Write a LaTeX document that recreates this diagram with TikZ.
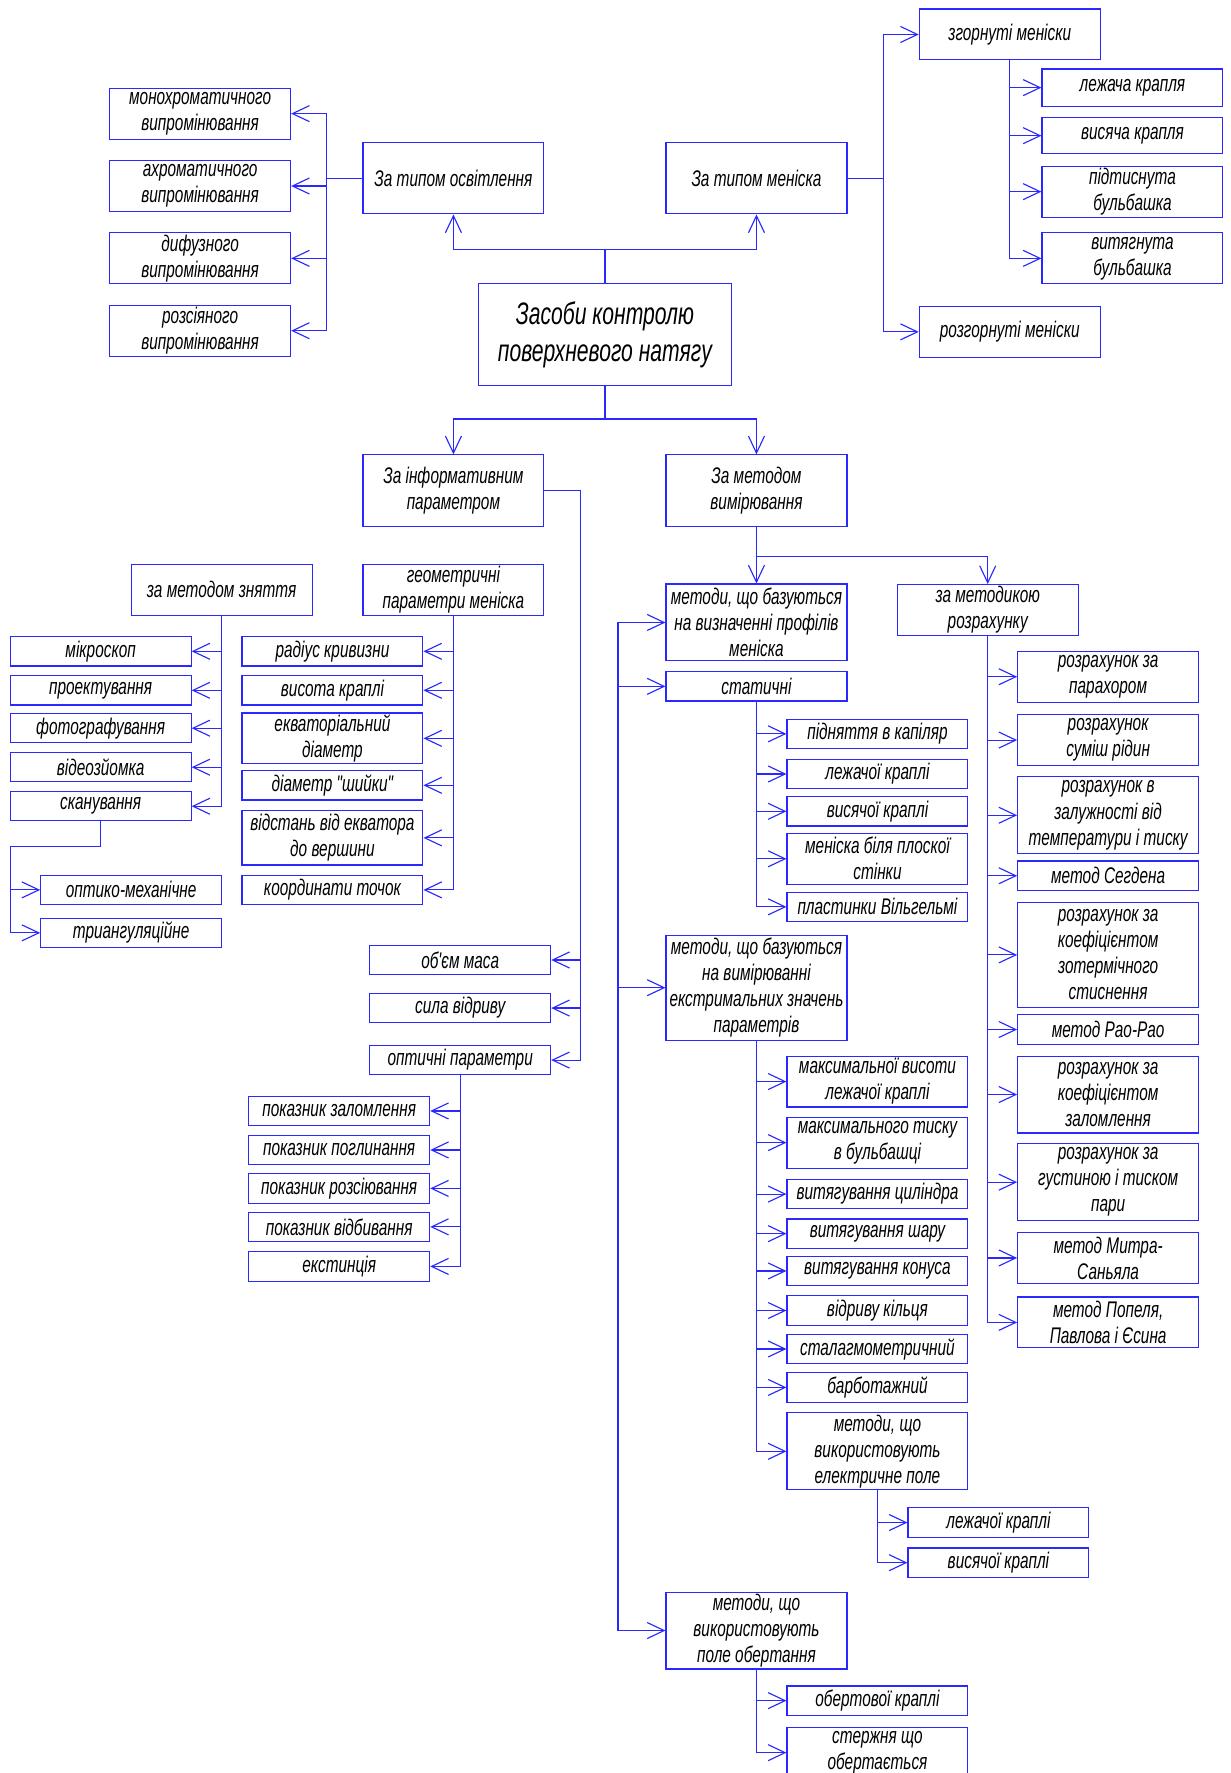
\documentclass[tikz,border=0pt]{standalone}
\usepackage{fontspec}
\newfontfamily\narrowfont{Liberation Sans}[FakeStretch=0.68]
\usetikzlibrary{arrows.meta}
\definecolor{lineblue}{RGB}{40,40,255}
\tikzset {>={Straight Barb[length=9pt,width=8.5pt]}}

\begin{document}
\begin{tikzpicture}[x=0.6pt,y=-0.6pt,
  every node/.style={font=\narrowfont\itshape\fontsize{12}{13.8}\selectfont},
  bx/.style={draw=lineblue,line width=0.6pt,align=center,inner sep=0pt,minimum width=96pt},
  h1/.style={bx,minimum height=15.6pt},
  h2/.style={bx,minimum height=27pt},
  hb/.style={bx,minimum height=38pt},
  h3/.style={bx,minimum height=40.8pt},
  h4/.style={bx,minimum height=55.8pt},
  ln/.style={draw=lineblue,line width=0.6pt,->}]
\fill[white] (0,0) rectangle (1088,1568);
\useasboundingbox (0,0) rectangle (1088,1568);

% top part
\node[bx,minimum width=134.4pt,minimum height=54pt,font=\narrowfont\itshape\fontsize{16.5}{19.8}\selectfont] (main) at (535,296) {Засоби контролю\\поверхневого натягу};
\node[hb] (osv) at (401,157.5) {За типом освітлення};
\node[hb] (men) at (669,157.5) {За типом меніска};
\node[h2] (mono) at (177,100.5) {монохроматичного\\випромінювання};
\node[h2] (achro) at (177,164.5) {ахроматичного\\випромінювання};
\node[h2] (dif) at (177,228.5) {дифузного\\випромінювання};
\node[h2] (roz) at (177,292.5) {розсіяного\\випромінювання};
\node[h2] (zgor) at (893,30.5) {згорнуті меніски};
\node[h2] (rozg) at (893,293.5) {розгорнуті меніски};
\node[bx,minimum height=19.8pt] (lezh) at (1001.5,77.5) {лежача крапля};
\node[bx,minimum height=19.2pt] (vys) at (1001.5,120) {висяча крапля};
\node[h2] (pidt) at (1001.5,169.5) {підтиснута\\бульбашка};
\node[h2] (vyt) at (1001.5,228.5) {витягнута\\бульбашка};

\draw[ln] (main.north) -- ++(0,-30) -| (osv.south);
\draw[ln] (main.north) -- ++(0,-30) -| (men.south);
\foreach \n in {mono,achro,dif,roz}
  \draw[ln] (osv.west) -- ++(-32,0) |- (\n.east);
\foreach \n in {zgor,rozg}
  \draw[ln] (men.east) -- ++(32,0) |- (\n.west);
\foreach \n in {lezh,vys,pidt,vyt}
  \draw[ln] (zgor.south) |- (\n.west);

% left part
\node[hb] (inf) at (401,434) {За інформативним\\параметром};
\node[h2] (znyat) at (196,521.5) {за методом зняття};
\node[h2] (geom) at (401,521.5) {геометричні\\параметри меніска};
\node[h1] (mikr) at (89,576) {мікроскоп};
\node[h1] (proek) at (89,610.5) {проектування};
\node[h1] (foto) at (89,644) {фотографування};
\node[h1] (video) at (89,678.5) {відеозйомка};
\node[h1] (skan) at (89,713) {сканування};
\node[h1] (optmech) at (116,787) {оптико-механічне};
\node[h1] (triang) at (116,825) {триангуляційне};
\node[h1] (rad) at (294,576) {радіус кривизни};
\node[h1] (vyskr) at (294,610.5) {висота краплі};
\node[h2] (ekv) at (294,653) {екваторіальний\\діаметр};
\node[h1] (diam) at (294,694.5) {діаметр "шийки"};
\node[bx,minimum height=28.8pt] (vidst) at (294,741) {відстань від екватора\\до вершини};
\node[h1] (koord) at (294,787) {координати точок};
\node[h1] (obm) at (407,849) {об'єм маса};
\node[h1] (syla) at (407,891.5) {сила відриву};
\node[h1] (opt) at (407,937.5) {оптичні параметри};
\node[h1] (zal) at (300,982.5) {показник заломлення};
\node[h1] (pogl) at (300,1017) {показник поглинання};
\node[h1] (rozs) at (300,1051) {показник розсіювання};
\node[h1] (vidb) at (300,1085) {показник відбивання};
\node[h1] (ekst) at (300,1120) {екстинція};

\draw[ln] (main.south) -- ++(0,29) -| (inf.north);
\foreach \n in {obm,syla,opt}
  \draw[ln] (inf.east) -- ++(32,0) |- (\n.east);
\foreach \n in {mikr,proek,foto,video,skan}
  \draw[ln] (znyat.south) |- (\n.east);
\foreach \n in {optmech,triang}
  \draw[ln] (skan.south) -- ++(0,22) -- ++(-80,0) |- (\n.west);
\foreach \n in {rad,vyskr,ekv,diam,vidst,koord}
  \draw[ln] (geom.south) |- (\n.east);
\foreach \n in {zal,pogl,rozs,vidb,ekst}
  \draw[ln] (opt.south) |- (\n.east);

% right part
\node[hb] (met) at (669,434) {За методом\\вимірювання};
\node[h3] (prof) at (669,550.5) {методи, що базуються\\на визначенні профілів\\меніска};
\node[h2] (rozr) at (873.5,539.5) {за методикою\\розрахунку};
\node[h1] (stat) at (669,607) {статичні};
\node[h1] (pidn) at (776,649) {підняття в капіляр};
\node[h1] (lezh2) at (776,684.5) {лежачої краплі};
\node[h1] (vys2) at (776,717.5) {висячої краплі};
\node[h2] (men2) at (776,759.5) {меніска біля плоскої\\стінки};
\node[h1] (plast) at (776,802) {пластинки Вільгельмі};
\node[h4] (ekstr) at (669,873.5) {методи, що базуються\\на вимірюванні\\екстримальних значень\\параметрів};
\node[h2] (maxv) at (776,956.5) {максимальної висоти\\лежачої краплі};
\node[h2] (maxt) at (776,1010.5) {максимального тиску\\в бульбашці};
\node[h1] (cyl) at (776,1056) {витягування циліндра};
\node[h1] (shar) at (776,1091) {витягування шару};
\node[h1] (kon) at (776,1124) {витягування конуса};
\node[h1] (kil) at (776,1159) {відриву кільця};
\node[h1] (stal) at (776,1193) {сталагмометричний};
\node[h1] (barb) at (776,1227) {барботажний};
\node[h3] (el) at (776,1283.5) {методи, що\\використовують\\електричне поле};
\node[h1] (lezh3) at (883,1346.5) {лежачої краплі};
\node[h1] (vys3) at (883,1382) {висячої краплі};
\node[h3] (rot) at (669,1442) {методи, що\\використовують\\поле обертання};
\node[h1] (obert) at (776,1504) {обертової краплі};
\node[h2] (sterzh) at (776,1550) {стержня що\\обертається};
\node[h2] (r1) at (980,598.5) {розрахунок за\\парахором};
\node[h2] (r2) at (980,654.5) {розрахунок\\суміш рідин};
\node[h3] (r3) at (980,721) {розрахунок в\\залужності від\\температури і тиску};
\node[h1] (r4) at (980,774.5) {метод Сегдена};
\node[h4] (r5) at (980,844.5) {розрахунок за\\коефіцієнтом\\зотермічного\\стиснення};
\node[h1] (r6) at (980,910.5) {метод Рао-Рао};
\node[h3] (r7) at (980,968) {розрахунок за\\коефіцієнтом\\заломлення};
\node[h3] (r8) at (980,1045.5) {розрахунок за\\густиною і тиском\\пари};
\node[h2] (r9) at (980,1112.5) {метод Митра-\\Саньяла};
\node[h2] (r10) at (980,1169.5) {метод Попеля,\\Павлова і Єсина};

\draw[ln] (main.south) -- ++(0,29) -| (met.north);
\draw[ln] (met.south) -- ++(0,26) -| (prof.north);
\draw[ln] (met.south) -- ++(0,26) -| (rozr.north);
\path (prof.west) ++(-42,0) coordinate (brk);
\foreach \n in {prof,stat,ekstr,rot}
  \draw[ln] (brk) |- (\n.west);
\foreach \n in {pidn,lezh2,vys2,men2,plast}
  \draw[ln] (stat.south) |- (\n.west);
\foreach \n in {maxv,maxt,cyl,shar,kon,kil,stal,barb,el}
  \draw[ln] (ekstr.south) |- (\n.west);
\foreach \n in {lezh3,vys3}
  \draw[ln] (el.south) |- (\n.west);
\foreach \n in {obert,sterzh}
  \draw[ln] (rot.south) |- (\n.west);
\foreach \n in {r1,r2,r3,r4,r5,r6,r7,r8,r9,r10}
  \draw[ln] (rozr.south) |- (\n.west);
\end{tikzpicture}
\end{document}
